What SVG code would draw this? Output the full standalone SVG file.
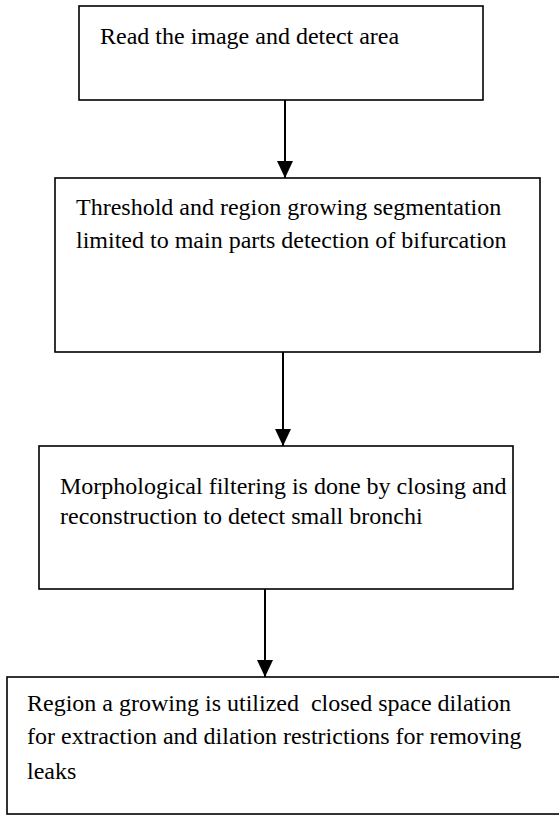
<svg xmlns="http://www.w3.org/2000/svg" width="559" height="821" viewBox="0 0 559 821">
<style>
.box{fill:#fff;stroke:#000;stroke-width:1.6}
.t{font-family:'Liberation Serif','Times New Roman',Times,serif;font-size:24px;fill:#000}
.c{stroke:#000;stroke-width:2;fill:none}
</style>
<defs>
<marker id="ah" markerUnits="userSpaceOnUse" markerWidth="17" markerHeight="16" refX="17" refY="8" orient="auto">
<path d="M0,0 L17,8 L0,16 Z" fill="#000"/>
</marker>
</defs>
<rect width="559" height="821" fill="#fff"/>
<g id="n1">
<rect class="box" x="79" y="6" width="404" height="94"/>
<text class="t" x="100" y="44">Read the image and detect area</text>
</g>
<g id="n2">
<rect class="box" x="55" y="178" width="485" height="174"/>
<text class="t" x="76" y="215">Threshold and region growing segmentation</text>
<text class="t" x="76" y="248">limited to main parts detection of bifurcation</text>
</g>
<g id="n3">
<rect class="box" x="39" y="446" width="474" height="143"/>
<text class="t" x="60" y="494">Morphological filtering is done by closing and</text>
<text class="t" x="60" y="524">reconstruction to detect small bronchi</text>
</g>
<g id="n4">
<rect class="box" x="7" y="677" width="560" height="137"/>
<text class="t" x="27" y="711" xml:space="preserve">Region a growing is utilized  closed space dilation</text>
<text class="t" x="27" y="744">for extraction and dilation restrictions for removing</text>
<text class="t" x="27" y="779">leaks</text>
</g>
<g id="connectors">
<line class="c" x1="285" y1="100" x2="285" y2="178" marker-end="url(#ah)"/>
<line class="c" x1="283" y1="352" x2="283" y2="446" marker-end="url(#ah)"/>
<line class="c" x1="265" y1="589" x2="265" y2="677" marker-end="url(#ah)"/>
</g>
</svg>
